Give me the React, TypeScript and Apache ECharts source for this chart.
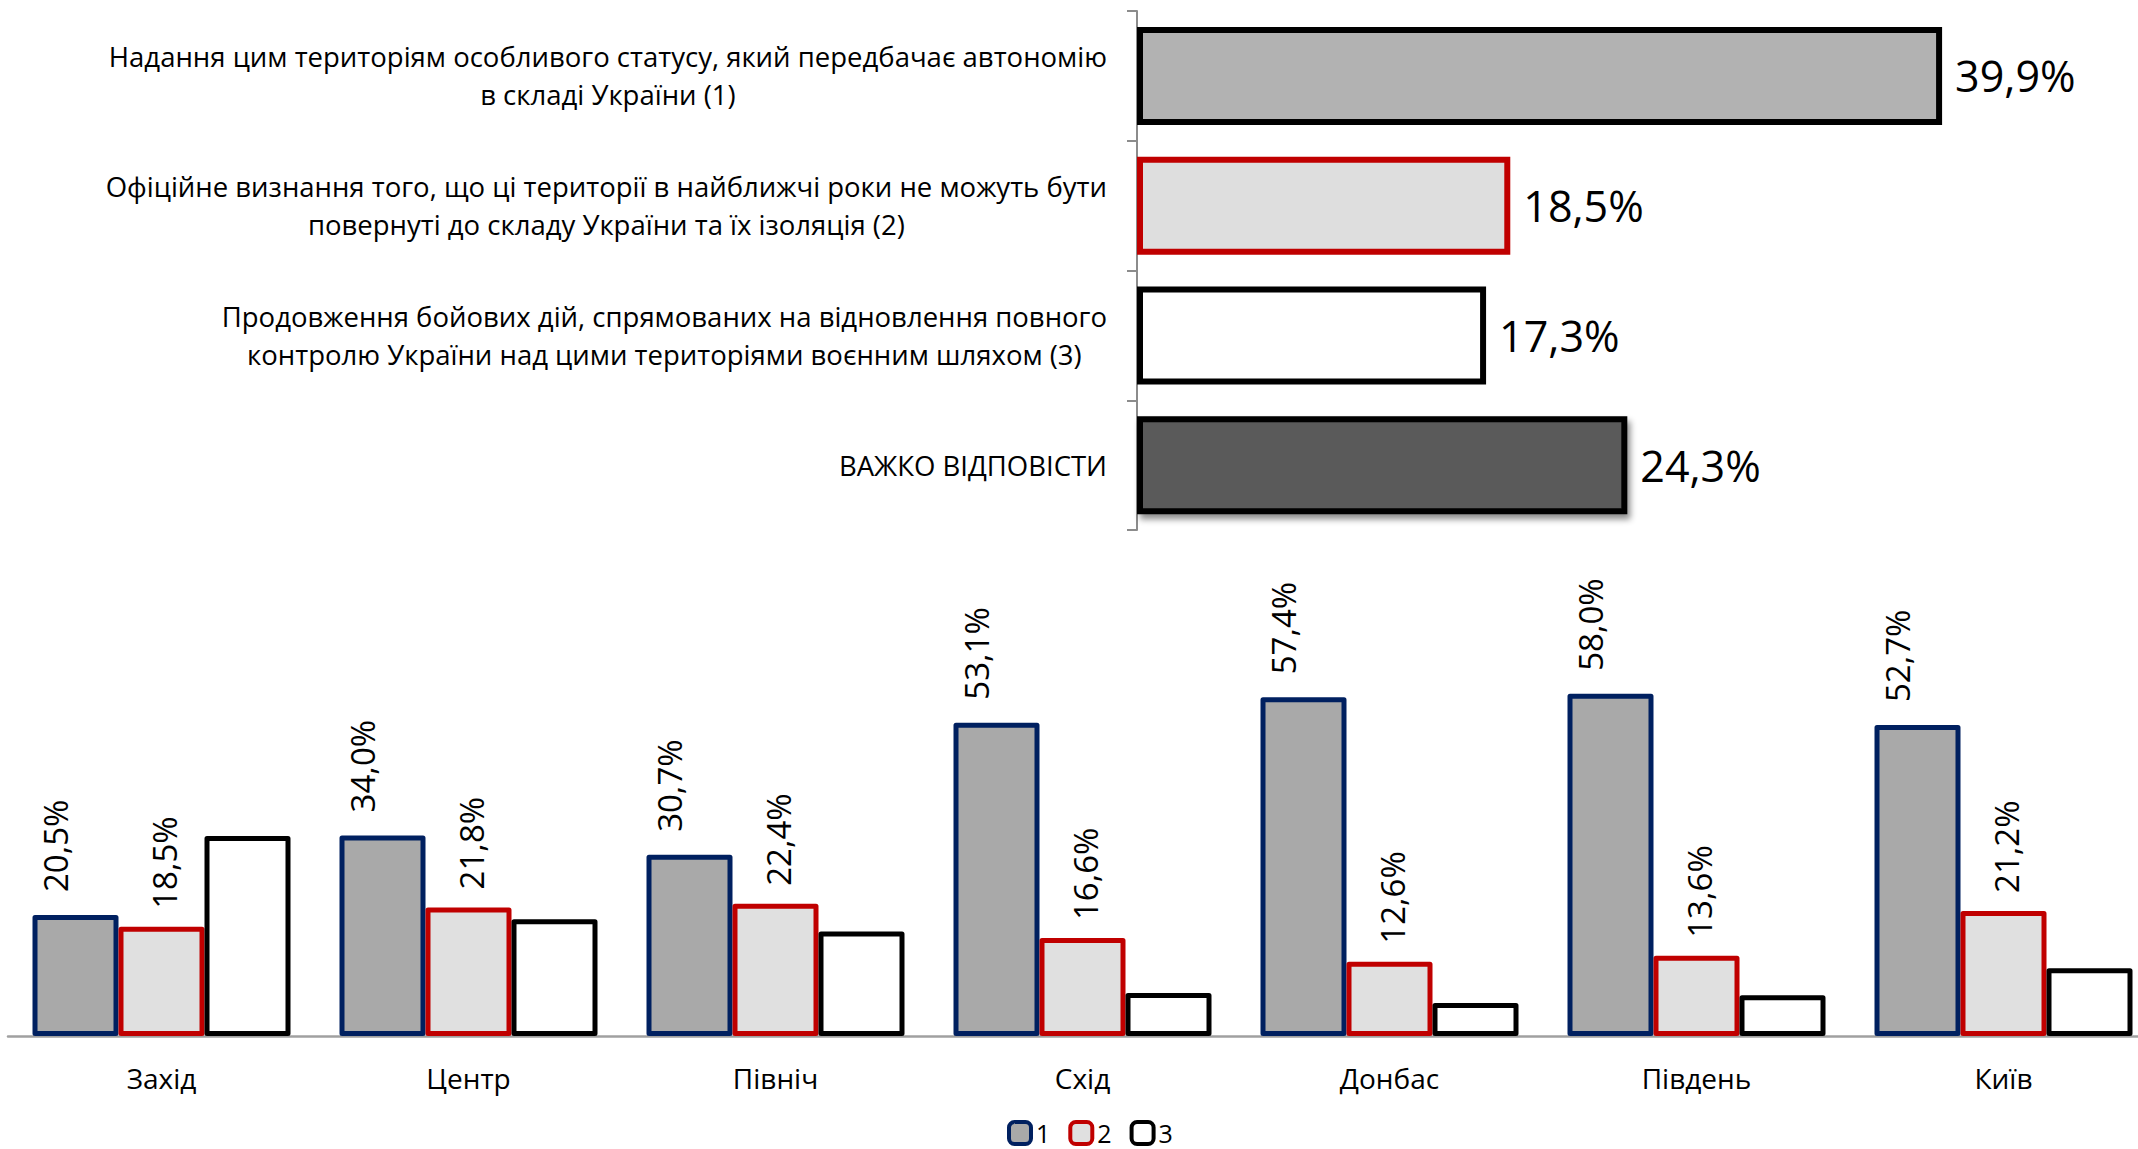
import React, { useEffect, useRef } from "react";
import * as echarts from "echarts";

// ---- Data ----
const topCategories = [
  "Надання цим територіям особливого статусу, який передбачає автономію\nв складі України (1)",
  "Офіційне визнання того, що ці території в найближчі роки не можуть бути\nповернуті до складу України та їх ізоляція (2)",
  "Продовження бойових дій, спрямованих на відновлення повного\nконтролю України над цими територіями воєнним шляхом (3)",
  "ВАЖКО ВІДПОВІСТИ",
];
const topValues = [39.9, 18.5, 17.3, 24.3];

const regions = ["Захід", "Центр", "Північ", "Схід", "Донбас", "Південь", "Київ"];
const seriesNames = ["1", "2", "3"];
const series1 = [20.5, 34.0, 30.7, 53.1, 57.4, 58.0, 52.7];
const series2 = [18.5, 21.8, 22.4, 16.6, 12.6, 13.6, 21.2];
const series3 = [33.9, 19.8, 17.7, 7.3, 5.6, 6.9, 11.5];

// ---- Styles ----
const topFill = ["#B2B2B2", "#DEDEDE", "#FFFFFF", "#5A5A5A"];
const topBorder = ["#000000", "#C00000", "#000000", "#000000"];
const botFill = ["#A9A9A9", "#E0E0E0", "#FFFFFF"];
const botBorder = ["#002060", "#C00000", "#000000"];
const labelDistance = [23, 18];
const labelShift = [[0, -20], [0, 3]];

const SANS = "'Open Sans', 'Noto Sans', sans-serif";

const fmt = (v: number) => v.toFixed(1).replace(".", ",") + "%";

function buildOption() {
  const topData = topValues.map((v, i) => ({
    value: v,
    itemStyle: {
      color: topFill[i],
      borderColor: topBorder[i],
      borderWidth: 6,
      ...(i === 3
        ? { shadowBlur: 6, shadowOffsetX: 3, shadowOffsetY: 5, shadowColor: "rgba(0,0,0,0.45)" }
        : {}),
    },
  }));

  const botSeriesData = [series1, series2, series3];

  const botSeries = botSeriesData.map((vals, si) => ({
    type: "bar",
    name: seriesNames[si],
    xAxisIndex: 1,
    yAxisIndex: 1,
    data: vals,
    barWidth: 86,
    barGap: "0%",
    itemStyle: { color: botFill[si], borderColor: botBorder[si], borderWidth: 5, borderJoin: "round" },
    label:
      si < 2
        ? {
            show: true,
            position: "top",
            rotate: 90,
            align: "left",
            verticalAlign: "middle",
            distance: labelDistance[si],
            offset: labelShift[si],
            formatter: (p: any) => fmt(p.value),
            fontFamily: SANS,
            fontSize: 33,
            color: "#000",
          }
        : { show: false },
  }));

  return {
    animation: false,
    backgroundColor: "#ffffff",
    grid: [
      { left: 1137, top: 11, height: 519, width: 908, containLabel: false },
      { left: 8, width: 2149, top: 682, bottom: 113, containLabel: false },
    ],
    xAxis: [
      { type: "value", gridIndex: 0, min: 0, max: 45, show: false },
      {
        type: "category",
        gridIndex: 1,
        data: regions,
        axisLine: { show: true, lineStyle: { color: "#A0A0A0", width: 2.5 } },
        axisTick: { show: false },
        axisLabel: { fontFamily: SANS, fontSize: 28, color: "#000", margin: 28 },
      },
    ],
    yAxis: [
      {
        type: "category",
        gridIndex: 0,
        inverse: true,
        data: topCategories,
        axisLine: { show: true, lineStyle: { color: "#8C8C8C", width: 2 } },
        axisTick: { show: true, length: 10, lineStyle: { color: "#8C8C8C", width: 2 } },
        axisLabel: {
          margin: 30,
          align: "right",
          formatter: (v: string) =>
            v
              .split("\n")
              .map((l) => `{c|${l}}`)
              .join("\n"),
          rich: {
            c: { align: "center", fontFamily: SANS, fontSize: 27.5, lineHeight: 38, color: "#000" },
          },
        },
      },
      { type: "value", gridIndex: 1, min: 0, max: 60, show: false },
    ],
    legend: {
      data: seriesNames,
      left: 1007,
      top: 1120,
      padding: 0,
      icon: "roundRect",
      itemWidth: 22,
      itemHeight: 22,
      itemGap: 18,
      itemStyle: { borderWidth: 4 },
      textStyle: { fontFamily: SANS, fontSize: 25, color: "#000" },
    },
    series: [
      {
        type: "bar",
        name: "top",
        xAxisIndex: 0,
        yAxisIndex: 0,
        data: topData,
        barWidth: 98,
        label: {
          show: true,
          position: "right",
          distance: 13,
          formatter: (p: any) => fmt(p.value),
          fontFamily: SANS,
          fontSize: 43,
          color: "#000",
        },
      },
      ...botSeries,
    ],
  };
}

export default function App() {
  const ref = useRef<HTMLDivElement>(null);
  useEffect(() => {
    const chart = echarts.init(ref.current!, undefined, { renderer: "svg" });
    chart.setOption(buildOption() as any);
    return () => chart.dispose();
  }, []);
  return (
    <div
      style={{
        position: "absolute",
        left: 0,
        top: 0,
        width: 2138,
        height: 1149,
        overflow: "hidden",
        background: "#fff",
      }}
    >
      <div ref={ref} style={{ width: 2160, height: 1149 }} />
    </div>
  );
}
